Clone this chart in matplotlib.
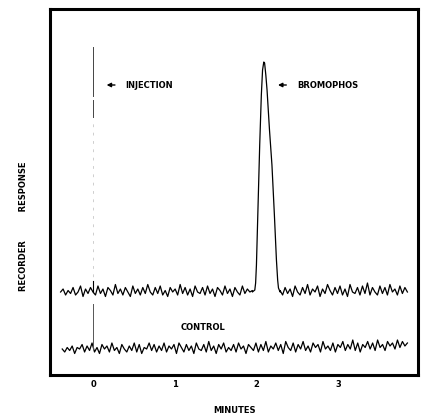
import numpy as np
import matplotlib.pyplot as plt

plt.rcParams['font.family'] = 'DejaVu Sans'
plt.rcParams['font.weight'] = 'bold'

# Recorder trace, sample (bromophos), baseline noise (chart px / 1.5)
sample_base = 83
sample_noise_a = [0, 2, -2, 1, -1, 3, -2, 0, 4, -3, 2, -1, 3, 0, -2, 4, -1, 2, -3, 3,
                  1, -2, 5, -1, 2, -2, 3, 0, -3, 4, -1, 2, -2, 3, -1, 5, 0, -2, 3, -1,
                  4, -2, 1, -3, 3, 0, 2, -2, 5, -1, 3, -2, 2, -3, 4, 0, -1, 3, -2, 4,
                  -1, 2, -3, 3, 1, -2, 4, -1, 2, -3, 3, 0, -2, 4, -1, 2, 0, 1]
sample_noise_b = [1, -2, 3, -1, 2, -3, 4, 0, -2, 3, -1, 5, -2, 2, 0, 4, -3, 2, -1, 5,
                  1, -2, 3, -1, 4, -2, 2, -3, 5, 0, -1, 3, -2, 4, -1, 6, -2, 3, 0, -2,
                  4, -1, 3, -2, 5, 0, 2, -2, 4, -1, 3, 0]
seg_a_time = (-0.40, 1.95)
seg_b_time = (2.29, 3.85)

# Bromophos peak
peak_t = [1.95, 1.98, 1.99, 2.00, 2.02, 2.04, 2.06, 2.075, 2.09, 2.10, 2.115, 2.13,
          2.16, 2.19, 2.22, 2.245, 2.26, 2.27, 2.29]
peak_y = [83, 85, 92, 110, 170, 230, 280, 305, 313, 312, 300, 285,
          245, 210, 160, 115, 95, 87, 83]

# Control trace
control_base = 26
control_noise = [0, -2, 1, -1, 2, -3, 1, 0, 3, -2, 2, -1, 4, -2, 1, -3, 3, 0, 2, -2,
                 4, -1, 1, -3, 3, 0, -2, 2, -1, 4, -2, 3, -3, 1, 0, 4, -1, 3, -2, 2,
                 -1, 4, -2, 2, 0, 3, -3, 4, 1, -2, 3, -1, 2, -3, 4, 0, -1, 3, -2, 5,
                 -1, 2, -3, 3, 0, 4, -2, 1, -1, 3, -2, 4, 0, 2, -3, 3, 1, -1, 4, -2,
                 3, -1, 5, -2, 2, 0, 4, -1, 3, -3, 5, 1, -1, 4, -2, 3, 0, 5, -1, 2,
                 -2, 4, 1, 3, -2, 5, 0, 2, -1, 4, -2, 3, 1, 5, -1, 3, 0, 6, -1, 4,
                 -2, 3, 1, 5, 0, 4, -1, 6, 1, 3, -1, 5, 2, 4, 0, 6, 1, 5, 2, 4]
control_time = (-0.38, 3.85)
noise_unit = 1.5

xticks = [0, 1, 2, 3]

fig = plt.figure(figsize=(4.25, 4.14), dpi=100)
ax = fig.add_axes([50 / 425, 38 / 414, 368 / 425, 366 / 414])

ta = np.linspace(*seg_a_time, len(sample_noise_a))
tb = np.linspace(*seg_b_time, len(sample_noise_b))
ya = sample_base + noise_unit * np.array(sample_noise_a)
yb = sample_base + noise_unit * np.array(sample_noise_b)
t_all = np.concatenate([ta, peak_t, tb])
y_all = np.concatenate([ya, peak_y, yb])
ax.plot(t_all, y_all, color='black', lw=0.9)

tc = np.linspace(*control_time, len(control_noise))
ax.plot(tc, control_base + noise_unit * np.array(control_noise), color='black', lw=0.9)

# injection marks
ax.plot([0, 0], [258, 275], color='#444444', lw=0.7)
ax.plot([0, 0], [279, 328], color='#444444', lw=0.7)
ax.plot([0, 0], [90, 256], color='#bbbbbb', lw=0.5, ls=(0, (4, 8)))
ax.plot([0, 0], [83, 94], color='black', lw=0.8)
ax.plot([0, 0], [26, 71], color='#555555', lw=0.7)

kw = dict(fontsize=6, fontweight='bold', va='center')
ax.annotate('', xy=(0.13, 290), xytext=(0.30, 290),
            arrowprops=dict(arrowstyle='-|>', color='black', lw=1.0, mutation_scale=6))
ax.text(0.39, 290, 'INJECTION', **kw)
ax.annotate('', xy=(2.23, 290), xytext=(2.40, 290),
            arrowprops=dict(arrowstyle='-|>', color='black', lw=1.0, mutation_scale=6))
ax.text(2.50, 290, 'BROMOPHOS', **kw)
ax.text(1.34, 48, 'CONTROL', ha='center', **kw)

ax.set_xlim(-0.53, 3.98)
ax.set_ylim(0, 366)
ax.set_xticks(xticks)
ax.set_xticklabels([str(v) for v in xticks], fontsize=6, fontweight='bold')
ax.tick_params(axis='x', length=0, pad=3)
ax.set_yticks([])
for s in ax.spines.values():
    s.set_linewidth(2.2)
ax.set_xlabel('MINUTES', fontsize=6, fontweight='bold', labelpad=12)
fig.text(24 / 425, 1 - 226 / 414, 'RECORDER          RESPONSE', rotation=90,
         ha='center', va='center', fontsize=6, fontweight='bold')

fig.savefig('out.png', dpi=100, facecolor='white')
